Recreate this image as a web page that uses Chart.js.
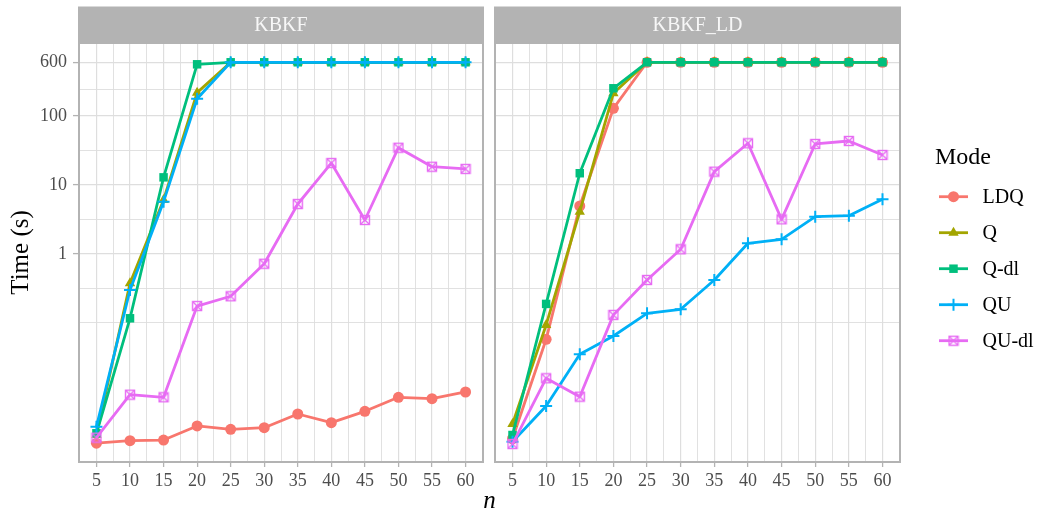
<!DOCTYPE html>
<html>
<head>
<meta charset="utf-8">
<script src="https://cdn.jsdelivr.net/npm/chart.js@4/dist/chart.umd.min.js"></script>
<style>
  html, body { margin: 0; padding: 0; background: #ffffff; }
  #wrap { position: relative; width: 1038px; height: 512px; }
  #wrap canvas { position: absolute; left: 0; top: 0; }
</style>
</head>
<body>
<div id="wrap">
  <canvas id="kbkf" width="1038" height="512"></canvas>
  <canvas id="kbkfld" width="1038" height="512"></canvas>
</div>
<script>
// Problem size n
const N = [5, 10, 15, 20, 25, 30, 35, 40, 45, 50, 55, 60];

const MODES = ['LDQ', 'Q', 'Q-dl', 'QU', 'QU-dl'];
const COLORS = ['#F8766D', '#A3A500', '#00BF7D', '#00B0F6', '#E76BF3'];

// Running times (s), panel KBKF
const kbkfLDQ  = [0.00181, 0.00197, 0.00201, 0.00322, 0.00288, 0.00304, 0.00480, 0.00359, 0.00525, 0.00838, 0.00800, 0.0100];
const kbkfQ    = [0.0024, 0.376, 6.07, 218, 600, 600, 600, 600, 600, 600, 600, 600];
const kbkfQdl  = [0.00252, 0.117, 12.9, 561, 600, 600, 600, 600, 600, 600, 600, 600];
const kbkfQU   = [0.00314, 0.301, 5.73, 178, 600, 600, 600, 600, 600, 600, 600, 600];
const kbkfQUdl = [0.00218, 0.00914, 0.00838, 0.176, 0.244, 0.723, 5.3, 20.8, 3.11, 34.7, 18.4, 17.1];

// Running times (s), panel KBKF_LD
const ldLDQ  = [0.0021, 0.058, 4.96, 129, 600, 600, 600, 600, 600, 600, 600, 600];
const ldQ    = [0.00344, 0.0936, 4.10, 213, 600, 600, 600, 600, 600, 600, 600, 600];
const ldQdl  = [0.00238, 0.189, 14.8, 252, 600, 600, 600, 600, 600, 600, 600, 600];
const ldQU   = [0.00190, 0.00627, 0.0352, 0.0648, 0.138, 0.158, 0.420, 1.43, 1.63, 3.47, 3.59, 6.21];
const ldQUdl = [0.00176, 0.0158, 0.00855, 0.131, 0.420, 1.17, 15.6, 40.2, 3.18, 39.3, 43.4, 27.2];

// Axis breaks
const Y_MAJOR = [1, 10, 100, 600];
const Y_MINOR = [0.1, Math.sqrt(0.1), Math.sqrt(10), Math.sqrt(1000), Math.sqrt(60000)];
const X_MAJOR = N;
const X_MINOR = [2.5, 7.5, 12.5, 17.5, 22.5, 27.5, 32.5, 37.5, 42.5, 47.5, 52.5, 57.5, 62.5];

const FONT = '"Liberation Serif", "DejaVu Serif", serif';
const GRID = '#dedede';
const FRAME = '#b3b3b3';

// square with a cross inside, used as the QU-dl marker
function squareCross(color) {
  const c = document.createElement('canvas');
  c.width = 12; c.height = 12;
  const g = c.getContext('2d');
  g.strokeStyle = color;
  g.lineWidth = 1.4;
  g.strokeRect(1.5, 1.5, 9, 9);
  g.beginPath();
  g.moveTo(1.5, 1.5); g.lineTo(10.5, 10.5);
  g.moveTo(10.5, 1.5); g.lineTo(1.5, 10.5);
  g.stroke();
  return c;
}

const STYLES = [
  { pointStyle: 'circle',   radius: 5.5, borderWidth: 0 },
  { pointStyle: 'triangle', radius: 6,   borderWidth: 0 },
  { pointStyle: 'rect',     radius: 6,   borderWidth: 0 },
  { pointStyle: 'cross',    radius: 6,   borderWidth: 2 },
  { pointStyle: squareCross(COLORS[4]), radius: 6, borderWidth: 1 }
];

function makeDatasets(series) {
  return series.map((vals, i) => ({
    label: MODES[i],
    data: N.map((n, k) => ({ x: n, y: vals[k] })),
    borderColor: COLORS[i],
    backgroundColor: COLORS[i],
    borderWidth: 2.8,
    borderJoinStyle: 'round',
    tension: 0,
    pointStyle: STYLES[i].pointStyle,
    pointRadius: STYLES[i].radius,
    pointBorderWidth: STYLES[i].borderWidth,
    pointBackgroundColor: COLORS[i],
    pointBorderColor: COLORS[i],
    order: MODES.length - i
  }));
}

// strip header and panel frame
const panelDeco = {
  id: 'panelDeco',
  beforeDraw(chart, args, opts) {
    const a = chart.chartArea, ctx = chart.ctx;
    ctx.save();
    ctx.fillStyle = FRAME;
    ctx.fillRect(a.left, 6.5, a.right - a.left, a.top - 6.5);
    ctx.fillStyle = '#f7f7f7';
    ctx.font = '20px ' + FONT;
    ctx.textAlign = 'center';
    ctx.textBaseline = 'middle';
    ctx.fillText(opts.title, (a.left + a.right) / 2, (6.5 + a.top) / 2 + 1);
    ctx.restore();
  },
  afterDatasetsDraw(chart) {
    const a = chart.chartArea, ctx = chart.ctx;
    ctx.save();
    ctx.strokeStyle = FRAME;
    ctx.lineWidth = 2;
    ctx.strokeRect(a.left + 1, a.top, a.right - a.left - 2, a.bottom - a.top);
    ctx.restore();
  }
};

// shared legend and x title, drawn on the right-hand chart
const legendDeco = {
  id: 'legendDeco',
  afterDraw(chart) {
    const ctx = chart.ctx;
    ctx.save();
    ctx.fillStyle = '#000000';
    ctx.textBaseline = 'middle';
    ctx.textAlign = 'left';
    ctx.font = '24px ' + FONT;
    ctx.fillText('Mode', 935, 158);
    ctx.font = '20px ' + FONT;
    MODES.forEach((m, i) => {
      const y = 196.7 + 36 * i;
      ctx.strokeStyle = COLORS[i];
      ctx.fillStyle = COLORS[i];
      ctx.lineWidth = 2.8;
      ctx.beginPath();
      ctx.moveTo(939, y);
      ctx.lineTo(968, y);
      ctx.stroke();
      ctx.lineWidth = STYLES[i].borderWidth || 1;
      Chart.helpers.drawPoint(ctx, {
        pointStyle: STYLES[i].pointStyle,
        radius: STYLES[i].radius,
        rotation: 0,
        borderWidth: STYLES[i].borderWidth
      }, 953.5, y);
      ctx.fillStyle = '#000000';
      ctx.fillText(m, 982.5, y + 1);
    });
    ctx.font = 'italic 25px ' + FONT;
    ctx.textAlign = 'center';
    ctx.fillText('n', 489.5, 501);
    ctx.restore();
  }
};

function makeChart(id, title, series, isLeft) {
  return new Chart(document.getElementById(id), {
    type: 'line',
    data: { datasets: makeDatasets(series) },
    plugins: [panelDeco].concat(isLeft ? [] : [legendDeco]),
    options: {
      responsive: false,
      animation: false,
      devicePixelRatio: 1,
      layout: {
        padding: isLeft
          ? { left: 0, top: 43, right: 1038 - 484, bottom: 0 }
          : { left: 488, top: 43, right: 1038 - 901, bottom: 0 }
      },
      plugins: {
        legend: { display: false },
        tooltip: { enabled: false },
        panelDeco: { title: title }
      },
      scales: {
        x: {
          type: 'linear',
          bounds: 'data',
          min: 2.25,
          max: 62.75,
          afterFit: s => { s.height = 50; },
          afterBuildTicks: s => {
            s.ticks = X_MINOR.concat(X_MAJOR).sort((a, b) => a - b).map(v => ({ value: v }));
          },
          ticks: {
            autoSkip: false,
            maxRotation: 0,
            padding: 3,
            color: '#4d4d4d',
            font: { family: FONT, size: 18 },
            callback: v => (X_MAJOR.includes(v) ? String(v) : '')
          },
          grid: {
            color: GRID,
            lineWidth: c => (X_MAJOR.includes(c.tick.value) ? 1.2 : 0.9),
            tickLength: 5,
            tickWidth: 1.3,
            tickColor: c => (X_MAJOR.includes(c.tick.value) ? FRAME : 'rgba(0,0,0,0)')
          },
          border: { display: false }
        },
        y: {
          type: 'logarithmic',
          bounds: 'data',
          min: 0.000967,
          max: 1142,
          afterFit: s => { s.width = isLeft ? 78 : 6; },
          afterBuildTicks: s => {
            s.ticks = Y_MINOR.concat(Y_MAJOR).sort((a, b) => a - b).map(v => ({ value: v }));
          },
          ticks: {
            display: isLeft,
            autoSkip: false,
            padding: 6,
            color: '#4d4d4d',
            font: { family: FONT, size: 18 },
            callback: v => (Y_MAJOR.includes(v) ? String(v) : '')
          },
          grid: {
            color: GRID,
            lineWidth: c => (Y_MAJOR.includes(c.tick.value) ? 1.2 : 0.9),
            drawTicks: isLeft,
            tickLength: 5,
            tickWidth: 1.3,
            tickColor: c => (Y_MAJOR.includes(c.tick.value) ? FRAME : 'rgba(0,0,0,0)')
          },
          border: { display: false },
          title: {
            display: isLeft,
            text: 'Time (s)',
            color: '#000000',
            font: { family: FONT, size: 25, lineHeight: 1 },
            padding: { top: 9, bottom: 0 }
          }
        }
      }
    }
  });
}

makeChart('kbkf', 'KBKF', [kbkfLDQ, kbkfQ, kbkfQdl, kbkfQU, kbkfQUdl], true);
makeChart('kbkfld', 'KBKF_LD', [ldLDQ, ldQ, ldQdl, ldQU, ldQUdl], false);
</script>
</body>
</html>
